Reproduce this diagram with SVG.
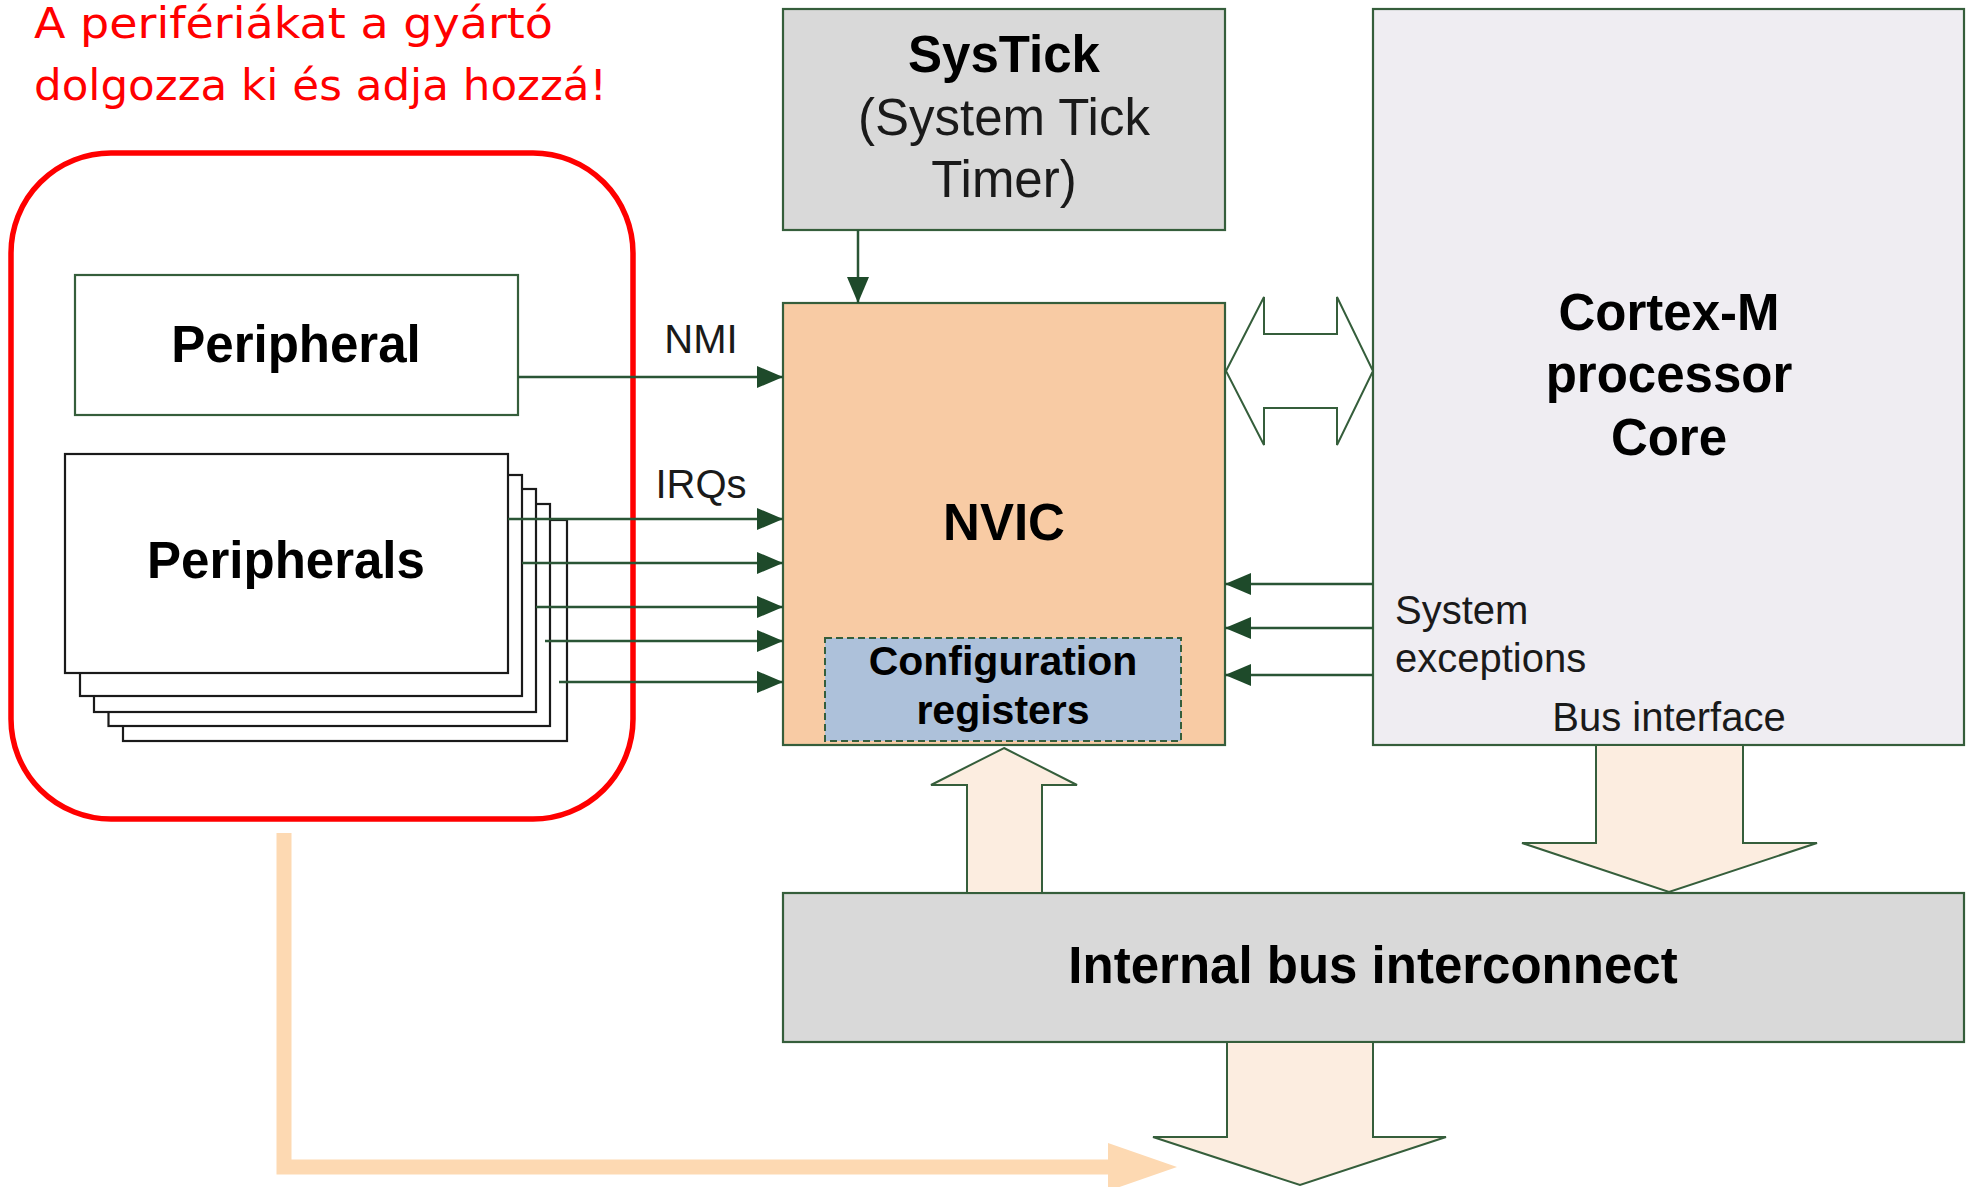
<svg xmlns="http://www.w3.org/2000/svg" width="1970" height="1187" viewBox="0 0 1970 1187">
<style>
.box{stroke:#355e3b;stroke-width:2.2}
.stk{fill:#fff;stroke:#1a1a1a;stroke-width:2.2}
.b{font-family:"Liberation Sans",Arial,sans-serif;font-weight:bold;fill:#000;text-anchor:middle}
.r{font-family:"Liberation Sans",Arial,sans-serif;fill:#1a1a1a}
.sig{stroke:#2a5535;stroke-width:2.5;fill:none}
.hollow{fill:#fcede0;stroke:#355e3b;stroke-width:2}
.note{font-family:"Comic Sans MS","DejaVu Sans",sans-serif;fill:#ff0000;font-size:43px}
</style>
<defs>
<marker id="ah" markerUnits="userSpaceOnUse" markerWidth="28" markerHeight="24" refX="26" refY="11" orient="auto">
<path d="M0,0 L26,11 L0,22 z" fill="#1e4a2a"/>
</marker>
</defs>
<rect width="1970" height="1187" fill="#fff"/>

<g id="note">
<text class="note" x="34" y="38" textLength="519" lengthAdjust="spacingAndGlyphs">A perifériákat a gyártó</text>
<text class="note" x="34" y="100" textLength="573" lengthAdjust="spacingAndGlyphs">dolgozza ki és adja hozzá!</text>
</g>

<g id="vendor-area">
<rect x="11" y="153" width="622" height="666" rx="100" ry="100" fill="none" stroke="#ff0000" stroke-width="5.5"/>
</g>

<g id="peripheral">
<rect class="box" x="75" y="275" width="443" height="140" fill="#fff"/>
<text class="b" x="296" y="362" font-size="51">Peripheral</text>
</g>

<g id="peripherals">
<rect class="stk" x="123" y="520" width="444" height="221"/>
<rect class="stk" x="108.5" y="504" width="441.5" height="222"/>
<rect class="stk" x="94" y="489" width="442" height="223"/>
<rect class="stk" x="80" y="475" width="442" height="221"/>
<rect class="stk" x="65" y="454" width="443" height="219"/>
<text class="b" x="286" y="578" font-size="51">Peripherals</text>
</g>

<g id="systick">
<rect class="box" x="783" y="9" width="442" height="221" fill="#d9d9d9"/>
<text class="b" x="1004" y="72" font-size="51">SysTick</text>
<text class="r" x="1004" y="135" font-size="51" text-anchor="middle">(System Tick</text>
<text class="r" x="1004" y="197" font-size="51" text-anchor="middle">Timer)</text>
</g>

<g id="nvic">
<rect class="box" x="783" y="303" width="442" height="442" fill="#f8cba4"/>
<text class="b" x="1004" y="540" font-size="51">NVIC</text>
</g>

<g id="config-registers">
<rect x="825" y="638" width="356" height="103" fill="#adc1da" stroke="#355e3b" stroke-width="2" stroke-dasharray="7,4"/>
<text class="b" x="1003" y="675" font-size="41">Configuration</text>
<text class="b" x="1003" y="724" font-size="41">registers</text>
</g>

<g id="cortex">
<rect class="box" x="1373" y="9" width="591" height="736" fill="#efedf2"/>
<text class="b" x="1669" y="330" font-size="51">Cortex-M</text>
<text class="b" x="1669" y="392" font-size="51">processor</text>
<text class="b" x="1669" y="455" font-size="51">Core</text>
<text class="r" x="1395" y="624" font-size="40">System</text>
<text class="r" x="1395" y="672" font-size="40">exceptions</text>
<text class="r" x="1669" y="731" font-size="40" text-anchor="middle">Bus interface</text>
</g>

<g id="bus">
<rect class="box" x="783" y="893" width="1181" height="149" fill="#d9d9d9"/>
<text class="b" x="1373" y="983" font-size="51">Internal bus interconnect</text>
</g>

<g id="labels">
<text class="r" x="701" y="353" font-size="40" text-anchor="middle">NMI</text>
<text class="r" x="701" y="498" font-size="40" text-anchor="middle">IRQs</text>
</g>

<g id="connectors">
<path class="sig" d="M858,230 V303" marker-end="url(#ah)"/>
<path class="sig" d="M518,377 H783" marker-end="url(#ah)"/>
<path class="sig" d="M508,519 H783" marker-end="url(#ah)"/>
<path class="sig" d="M522,563 H783" marker-end="url(#ah)"/>
<path class="sig" d="M536,607 H783" marker-end="url(#ah)"/>
<path class="sig" d="M545,641 H783" marker-end="url(#ah)"/>
<path class="sig" d="M559,682 H783" marker-end="url(#ah)"/>
<path class="sig" d="M1373,584 H1225" marker-end="url(#ah)"/>
<path class="sig" d="M1373,628 H1225" marker-end="url(#ah)"/>
<path class="sig" d="M1373,675 H1225" marker-end="url(#ah)"/>
<path d="M1226,371 L1264,297 V334 H1337 V297 L1373,371 L1337,445 V408 H1264 V445 Z" fill="#fff" stroke="#355e3b" stroke-width="2"/>
<path class="hollow" d="M1004,748 L1077,785 H1042 V893 H967 V785 H931 Z"/>
<path class="hollow" d="M1596,745 H1743 V843 H1817 L1669,892 L1522,843 H1596 Z"/>
<path class="hollow" d="M1227,1042 H1373 V1137 H1446 L1300,1185 L1153,1137 H1227 Z"/>
<path d="M284,833 V1167 H1110" fill="none" stroke="#fdd9b2" stroke-width="15"/>
<path d="M1108,1143 L1177,1167 L1108,1191 Z" fill="#fdd9b2"/>
</g>
</svg>
